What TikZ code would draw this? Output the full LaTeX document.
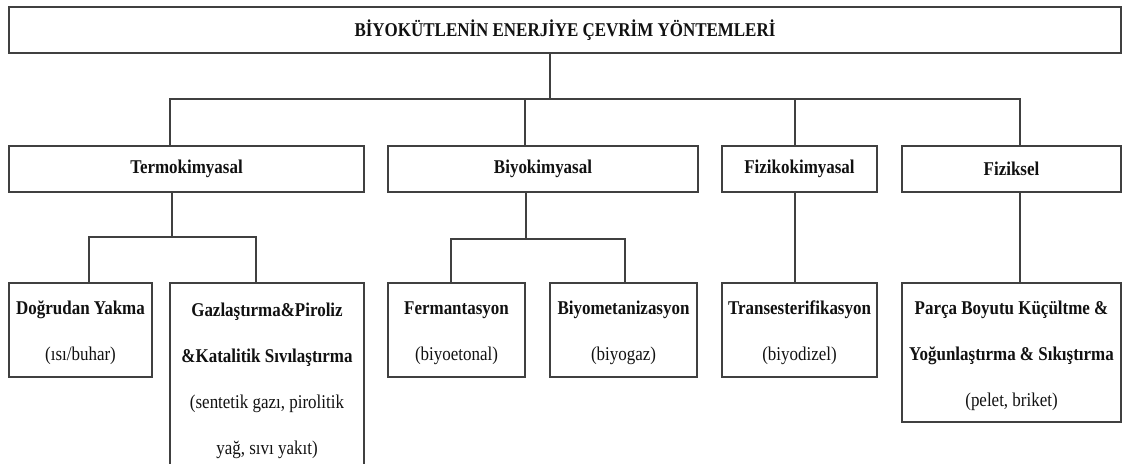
\documentclass[tikz,border=0pt]{standalone}
\usepackage{fontspec}
\setmainfont{Liberation Serif}[FakeStretch=0.87]
\definecolor{linec}{HTML}{404040}
\definecolor{txtc}{HTML}{111111}
\newcommand{\fstrut}{\rule{0pt}{20pt}}
\begin{document}
\begin{tikzpicture}[x=1pt,y=-1pt,
  box/.style={draw=linec, line width=1.5pt, inner sep=0pt, align=center, text=txtc,
    font=\fontsize{19.5}{46}\selectfont},
  bbox/.style={box, font=\bfseries\fontsize{19.5}{46}\selectfont},
  conn/.style={draw=linec, line width=1.3pt}]
\useasboundingbox (0,0) rectangle (1124,463);
\clip (0,0) rectangle (1124,463);
% level 1
\node[bbox, minimum width=1112pt, minimum height=46pt] (top) at (565,30) {BİYOKÜTLENİN ENERJİYE ÇEVRİM YÖNTEMLERİ};
% level 2
\node[bbox, minimum width=355pt, minimum height=46pt] (termo) at (186.5,169) {Termokimyasal};
\node[bbox, minimum width=310pt, minimum height=46pt] (biyo) at (543,169) {Biyokimyasal};
\node[bbox, minimum width=155pt, minimum height=46pt] (fk) at (799.5,169) {Fizikokimyasal};
\node[bbox, minimum width=219pt, minimum height=46pt] (fiz) at (1011.5,169) {Fiziksel};
% level 3
\node[box, minimum width=143pt, minimum height=94pt] (dog) at (80.5,330) {\fstrut\textbf{Doğrudan Yakma}\\(ısı/buhar)};
\node[box, minimum width=194pt, minimum height=190pt] (gaz) at (267,378) {\fstrut\textbf{Gazlaştırma\&Piroliz}\\\textbf{\&Katalitik Sıvılaştırma}\\(sentetik gazı, pirolitik\\yağ, sıvı yakıt)};
\node[box, minimum width=137pt, minimum height=94pt] (ferm) at (456.5,330) {\fstrut\textbf{Fermantasyon}\\(biyoetonal)};
\node[box, minimum width=147pt, minimum height=94pt] (met) at (623.5,330) {\fstrut\textbf{Biyometanizasyon}\\(biyogaz)};
\node[box, minimum width=155pt, minimum height=94pt] (trans) at (799.5,330) {\fstrut\textbf{Transesterifikasyon}\\(biyodizel)};
\node[box, minimum width=219pt, minimum height=139pt] (parca) at (1011.5,352.5) {\fstrut\textbf{Parça Boyutu Küçültme \&}\\\textbf{Yoğunlaştırma \& Sıkıştırma}\\(pelet, briket)};
% bus coordinates
\coordinate (bus) at (0,99);
\coordinate (sb1) at (0,237);
\coordinate (sb2) at (0,239);
% top connectors
\draw[conn] ([xshift=-15pt]top.south) -- ([xshift=-15pt]top.south |- bus);
\draw[conn] ([xshift=-16.5pt]termo.north) -- ([xshift=-16.5pt]termo.north |- bus) -- ([xshift=8.5pt]fiz.north |- bus) -- ([xshift=8.5pt]fiz.north);
\draw[conn] ([xshift=-18pt]biyo.north) -- ([xshift=-18pt]biyo.north |- bus);
\draw[conn] ([xshift=-4.5pt]fk.north) -- ([xshift=-4.5pt]fk.north |- bus);
% termokimyasal branch
\draw[conn] ([xshift=-14.5pt]termo.south) -- ([xshift=-14.5pt]termo.south |- sb1);
\draw[conn] ([xshift=8.5pt]dog.north) -- ([xshift=8.5pt]dog.north |- sb1) -- ([xshift=-11pt]gaz.north |- sb1) -- ([xshift=-11pt]gaz.north);
% biyokimyasal branch
\draw[conn] ([xshift=-17pt]biyo.south) -- ([xshift=-17pt]biyo.south |- sb2);
\draw[conn] ([xshift=-5.5pt]ferm.north) -- ([xshift=-5.5pt]ferm.north |- sb2) -- ([xshift=1.5pt]met.north |- sb2) -- ([xshift=1.5pt]met.north);
% fizikokimyasal and fiziksel
\draw[conn] ([xshift=-4.5pt]fk.south) -- ([xshift=-4.5pt]trans.north);
\draw[conn] ([xshift=8.5pt]fiz.south) -- ([xshift=8.5pt]parca.north);
\end{tikzpicture}
\end{document}
